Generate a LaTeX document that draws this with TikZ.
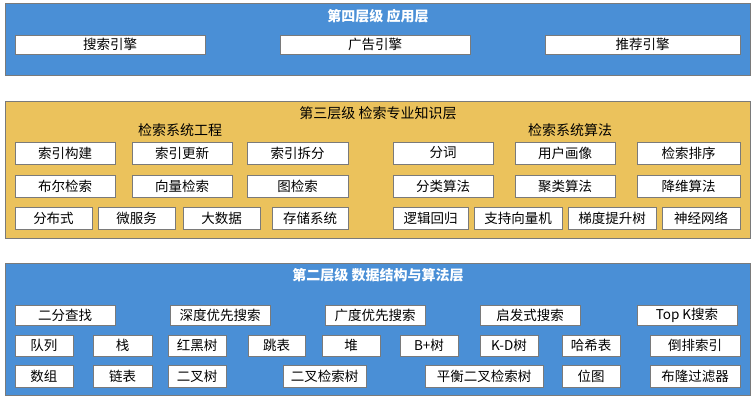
\documentclass[tikz,border=0pt]{standalone}
\usepackage{fontspec}
\setmainfont{Noto Sans CJK SC}
\definecolor{bandblue}{HTML}{4A8FD6}
\definecolor{bandyel}{HTML}{EBC25C}
\definecolor{edge}{HTML}{7A7A7A}
\tikzset{
  band/.style={draw=edge,line width=0.8pt},
  cell/.style={draw=edge,fill=white,line width=0.6pt,inner sep=0pt,font=\fontsize{13.5}{14}\selectfont},
  wtitle/.style={text=white,font=\fontsize{14}{15}\selectfont\bfseries},
  ktitle/.style={text=black,font=\fontsize{14}{15}\selectfont},
}
\newcommand{\cellbox}[6]{\node[cell,minimum width={(#3-#1)*1pt},minimum height={(#4-#2)*1pt}] (#6) at ({(#1+#3)/2},{(#2+#4)/2}) {#5};}
\begin{document}
\begin{tikzpicture}[x=1pt,y=-1pt]
\useasboundingbox (0,0) rectangle (756,400);
\fill[white] (0,0) rectangle (756,400);
% top band
\draw[band,fill=bandblue] (5,3) rectangle (750,75);
\node[wtitle] (t4) at (378,16) {第四层级\ 应用层};
\cellbox{15}{35}{205}{54}{搜索引擎}{a1}
\cellbox{280}{35}{470}{54}{广告引擎}{a2}
\cellbox{545}{35}{740}{54}{推荐引擎}{a3}
% middle band
\draw[band,fill=bandyel] (5,101) rectangle (750,238);
\node[ktitle] (t3) at (378,113) {第三层级\ 检索专业知识层};
\node[ktitle] (s1) at (180,130) {检索系统工程};
\node[ktitle] (s2) at (570,130) {检索系统算法};
\cellbox{15}{142}{115}{164}{索引构建}{m1}
\cellbox{132}{142}{232}{164}{索引更新}{m2}
\cellbox{247}{142}{348}{164}{索引拆分}{m3}
\cellbox{15}{175}{115}{197}{布尔检索}{m4}
\cellbox{132}{175}{232}{197}{向量检索}{m5}
\cellbox{247}{175}{348}{197}{图检索}{m6}
\cellbox{15}{207}{92}{229}{分布式}{m7}
\cellbox{98}{207}{175}{229}{微服务}{m8}
\cellbox{183}{207}{260}{229}{大数据}{m9}
\cellbox{272}{207}{348}{229}{存储系统}{m10}
\cellbox{393}{142}{493}{164}{分词}{r1}
\cellbox{515}{142}{615}{164}{用户画像}{r2}
\cellbox{637}{142}{740}{164}{检索排序}{r3}
\cellbox{393}{175}{493}{197}{分类算法}{r4}
\cellbox{515}{175}{615}{197}{聚类算法}{r5}
\cellbox{637}{175}{740}{197}{降维算法}{r6}
\cellbox{393}{207}{468}{229}{逻辑回归}{r7}
\cellbox{474}{207}{562}{229}{支持向量机}{r8}
\cellbox{568}{207}{656}{229}{梯度提升树}{r9}
\cellbox{662}{207}{740}{229}{神经网络}{r10}
% bottom band
\draw[band,fill=bandblue] (5,263) rectangle (750,395);
\node[wtitle] (t2) at (378,275) {第二层级\ 数据结构与算法层};
\cellbox{15}{305}{115}{325}{二分查找}{b1}
\cellbox{170}{305}{270}{325}{深度优先搜索}{b2}
\cellbox{325}{305}{425}{325}{广度优先搜索}{b3}
\cellbox{480}{305}{580}{325}{启发式搜索}{b4}
\cellbox{637}{305}{737}{325}{Top K搜索}{b5}
\cellbox{15}{335}{73}{356}{队列}{c1}
\cellbox{93}{335}{152}{356}{栈}{c2}
\cellbox{168}{335}{226}{356}{红黑树}{c3}
\cellbox{248}{335}{305}{356}{跳表}{c4}
\cellbox{322}{335}{380}{356}{堆}{c5}
\cellbox{400}{335}{458}{356}{B+树}{c6}
\cellbox{480}{335}{538}{356}{K-D树}{c7}
\cellbox{562}{335}{620}{356}{哈希表}{c8}
\cellbox{650}{335}{740}{356}{倒排索引}{c9}
\cellbox{15}{365}{73}{387}{数组}{d1}
\cellbox{93}{365}{152}{387}{链表}{d2}
\cellbox{168}{365}{226}{387}{二叉树}{d3}
\cellbox{283}{365}{366}{387}{二叉检索树}{d4}
\cellbox{425}{365}{543}{387}{平衡二叉检索树}{d5}
\cellbox{562}{365}{620}{387}{位图}{d6}
\cellbox{650}{365}{740}{387}{布隆过滤器}{d7}
\end{tikzpicture}
\end{document}
